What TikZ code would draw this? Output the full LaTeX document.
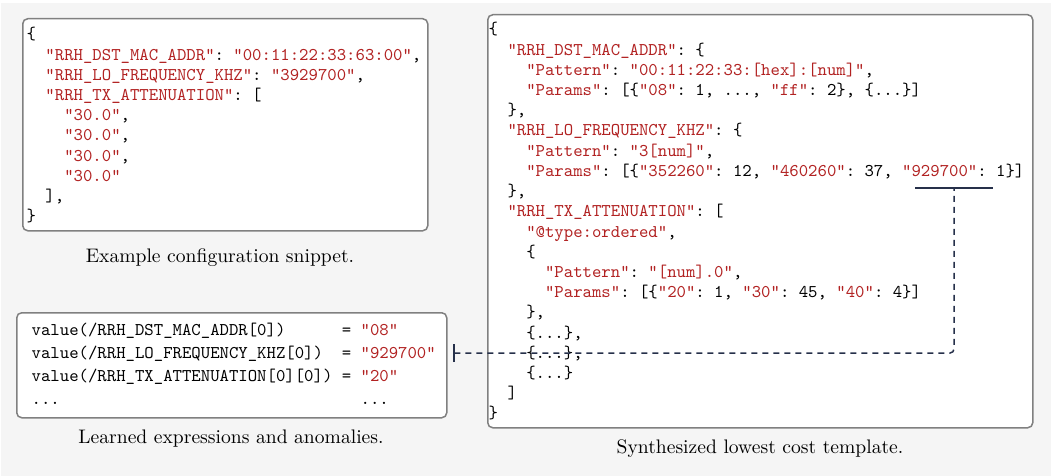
\documentclass[tikz,border=0pt]{standalone}
\usepackage{graphicx}
\usetikzlibrary{arrows.meta}
\definecolor{jred}{RGB}{178,34,34}
\definecolor{bgc}{RGB}{245,245,245}
\definecolor{bordc}{RGB}{128,128,128}
\definecolor{connc}{RGB}{38,48,74}
\newcommand\R[1]{\textcolor{jred}{#1}}
\newcommand\IN[1]{\hphantom{#1}}
\newcommand\codelines[2]{\scalebox{1.79}{\fontsize{10}{#1}\selectfont\ttfamily\frenchspacing\begin{tabular}[t]{@{}l@{}}#2\end{tabular}}}
\newcommand\captiontext[1]{\scalebox{1.96}{\fontsize{10}{12}\selectfont #1}}
\begin{document}
\begin{tikzpicture}[x=1pt,y=-1pt,
  box/.style={draw=bordc, line width=1.5pt, rounded corners=5pt, fill=white, inner sep=0pt, anchor=north west},
  code/.style={inner sep=0pt, anchor=base west},
  captext/.style={inner sep=0pt, anchor=base},
  conn/.style={draw=connc, line width=1.5pt, dash pattern=on 6pt off 5pt},
  uline/.style={draw=connc, line width=1.4pt}]
\useasboundingbox (0,0) rectangle (1051,476);
\fill[white] (0,0) rectangle (1051,476);
\fill[bgc] (1,3) rectangle (1051,476);

% boxes
\node[box, minimum width=405pt, minimum height=212pt] (cfgbox) at (22,18) {};
\node[box, minimum width=545pt, minimum height=413pt] (tmplbox) at (487,14) {};
\node[box, minimum width=430pt, minimum height=105pt] (anombox) at (16,312) {};

% example configuration
\node[code] (cfgcode) at (26.5,40) {\codelines{11.285}{%
\{\\
\IN{00}\R{"RRH\_DST\_MAC\_ADDR"}: \R{"00:11:22:33:63:00"},\\
\IN{00}\R{"RRH\_LO\_FREQUENCY\_KHZ"}: \R{"3929700"},\\
\IN{00}\R{"RRH\_TX\_ATTENUATION"}: [\\
\IN{0000}\R{"30.0"},\\
\IN{0000}\R{"30.0"},\\
\IN{0000}\R{"30.0"},\\
\IN{0000}\R{"30.0"}\\
\IN{00}],\\
\}}};

% template
\node[code] (tmplcode) at (488.5,35) {\codelines{11.285}{%
\{\\
\IN{00}\R{"RRH\_DST\_MAC\_ADDR"}: \{\\
\IN{0000}\R{"Pattern"}: \R{"00:11:22:33:[hex]:[num]"},\\
\IN{0000}\R{"Params"}: [\{\R{"08"}: 1, ..., \R{"ff"}: 2\}, \{...\}]\\
\IN{00}\},\\
\IN{00}\R{"RRH\_LO\_FREQUENCY\_KHZ"}: \{\\
\IN{0000}\R{"Pattern"}: \R{"3[num]"},\\
\IN{0000}\R{"Params"}: [\{\R{"352260"}: 12, \R{"460260"}: 37, \R{"929700"}: 1\}]\\
\IN{00}\},\\
\IN{00}\R{"RRH\_TX\_ATTENUATION"}: [\\
\IN{0000}\R{"@type:ordered"},\\
\IN{0000}\{\\
\IN{000000}\R{"Pattern"}: \R{"[num].0"},\\
\IN{000000}\R{"Params"}: [\{\R{"20"}: 1, \R{"30"}: 45, \R{"40"}: 4\}]\\
\IN{0000}\},\\
\IN{0000}\{...\},\\
\IN{0000}\{...\},\\
\IN{0000}\{...\}\\
\IN{00}]\\
\}}};

% learned expressions
\node[code] (anomcode) at (31.5,335) {\codelines{12.85}{%
value(/RRH\_DST\_MAC\_ADDR[0])\IN{00000} = \R{"08"}\\
value(/RRH\_LO\_FREQUENCY\_KHZ[0])\IN{0} = \R{"929700"}\\
value(/RRH\_TX\_ATTENUATION[0][0]) = \R{"20"}\\
...\IN{00000000000000000000000000000000}...}};

% captions
\node[captext] (cfgcap) at (220,262) {\captiontext{Example configuration snippet.}};
\node[captext] (anomcap) at (231,443) {\captiontext{Learned expressions and anomalies.}};
\node[captext] (tmplcap) at (760,453) {\captiontext{Synthesized lowest cost template.}};

% connector
\coordinate (ulL) at (915,188);
\coordinate (ulR) at (993,188);
\coordinate (ulM) at (954,188);
\coordinate (anomtip) at (453,353);
\draw[uline] (ulL) -- (ulR);
\draw[conn, rounded corners=4pt, {Bar[width=18pt,line width=1.8pt]}-] (anomtip) -| (ulM);
\end{tikzpicture}
\end{document}
